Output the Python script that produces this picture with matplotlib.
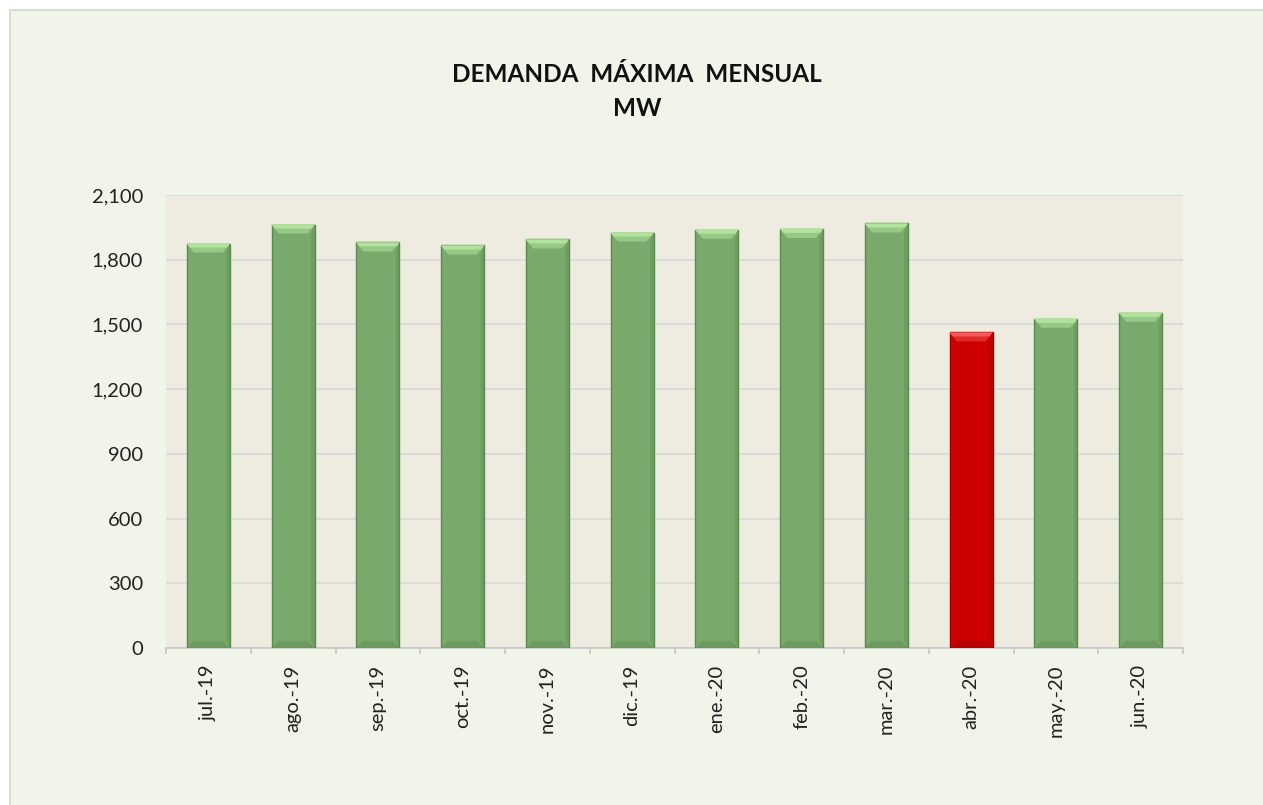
import matplotlib.pyplot as plt
from matplotlib.patches import Polygon, Rectangle
import numpy as np

# data
months = ['jul.-19', 'ago.-19', 'sep.-19', 'oct.-19', 'nov.-19', 'dic.-19',
          'ene.-20', 'feb.-20', 'mar.-20', 'abr.-20', 'may.-20', 'jun.-20']
demand_mw = [1875, 1963, 1880, 1866, 1894, 1926, 1939, 1943, 1968, 1463, 1526, 1554]
highlight = 'abr.-20'

yticks = [0, 300, 600, 900, 1200, 1500, 1800, 2100]

plt.rcParams['font.family'] = ['Lato', 'DejaVu Sans']

fig = plt.figure(figsize=(12.63, 8.05), dpi=100)
fig.patch.set_facecolor('white')
# chart area frame (only left/top edges visible)
frame = Rectangle((10 / 1263, -0.05), 1.1, 1.05 - 10 / 805,
                  transform=fig.transFigure, facecolor='#F1F4E8',
                  edgecolor='#D4D4D4', linewidth=1.2, zorder=-10)
fig.patches.append(frame)

ax = fig.add_axes([166 / 1263, 1 - 648 / 805, (1183 - 166) / 1263, (648 - 195) / 805])
ax.set_facecolor('#EEEBE0')

x = np.arange(len(months))
width = 0.51
face = ['#CC0000' if m == highlight else '#79AA6B' for m in months]
edge = ['#9E0000' if m == highlight else '#5A8A4E' for m in months]
light = ['#F05A5A' if m == highlight else '#B2E39C' for m in months]
mid = ['#DE2A2A' if m == highlight else '#96C886' for m in months]
dark = ['#A80000' if m == highlight else '#5F8F52' for m in months]

bars = ax.bar(x, demand_mw, width=width, color=face, edgecolor=edge,
              linewidth=1.0, zorder=3)

# bevel effect
bev_x = 0.085
bev_y = 2100 * 9 / 453
for b, lc, mc, dc in zip(bars, light, mid, dark):
    x0, w, h = b.get_x(), b.get_width(), b.get_height()
    x1 = x0 + w
    top = Polygon([(x0, h), (x1, h), (x1 - bev_x, h - bev_y), (x0 + bev_x, h - bev_y)],
                  closed=True, facecolor=mc, edgecolor='none', zorder=4)
    ax.add_patch(top)
    top2 = Polygon([(x0, h), (x1, h), (x1 - bev_x * 0.45, h - bev_y * 0.45),
                    (x0 + bev_x * 0.45, h - bev_y * 0.45)],
                   closed=True, facecolor=lc, edgecolor='none', zorder=4)
    ax.add_patch(top2)
    bot = Polygon([(x0, 0), (x1, 0), (x1 - bev_x, bev_y * 0.8), (x0 + bev_x, bev_y * 0.8)],
                  closed=True, facecolor=dc, edgecolor='none', alpha=0.5, zorder=4)
    ax.add_patch(bot)
    right = Polygon([(x1, 0), (x1, h), (x1 - bev_x * 0.5, h - bev_y), (x1 - bev_x * 0.5, bev_y * 0.8)],
                    closed=True, facecolor=dc, edgecolor='none', alpha=0.45, zorder=4)
    ax.add_patch(right)

ax.set_xlim(-0.5, len(months) - 0.5)
ax.set_ylim(0, 2100)
ax.set_yticks(yticks)
ax.set_yticklabels([f'{v:,}' for v in yticks], fontsize=14.5, color='#222222')
ax.yaxis.grid(True, color='#D8D8DC', linewidth=1.2, zorder=0)
ax.set_axisbelow(True)
ax.tick_params(axis='y', length=0, pad=16.5)

ax.set_xticks(x)
ax.set_xticklabels(months, rotation=90, fontsize=14.5, color='#222222')
ax.set_xticks(np.arange(-0.5, len(months), 1), minor=True)
ax.tick_params(axis='x', which='major', length=0, pad=12)
ax.tick_params(axis='x', which='minor', length=4.5, color='#C8C8C8', width=1.2)

for s in ['top', 'right', 'left']:
    ax.spines[s].set_visible(False)
ax.spines['bottom'].set_color('#C8C8C8')
ax.spines['bottom'].set_linewidth(1.2)

fig.text(637 / 1263, 1 - 75 / 805, 'DEMANDA  MÁXIMA  MENSUAL', ha='center', va='center',
         fontsize=17.5, fontweight='bold', color='#111111')
fig.text(637 / 1263, 1 - 108 / 805, 'MW', ha='center', va='center',
         fontsize=17.5, fontweight='bold', color='#111111')

fig.savefig('out.png', dpi=100, facecolor=fig.get_facecolor())
